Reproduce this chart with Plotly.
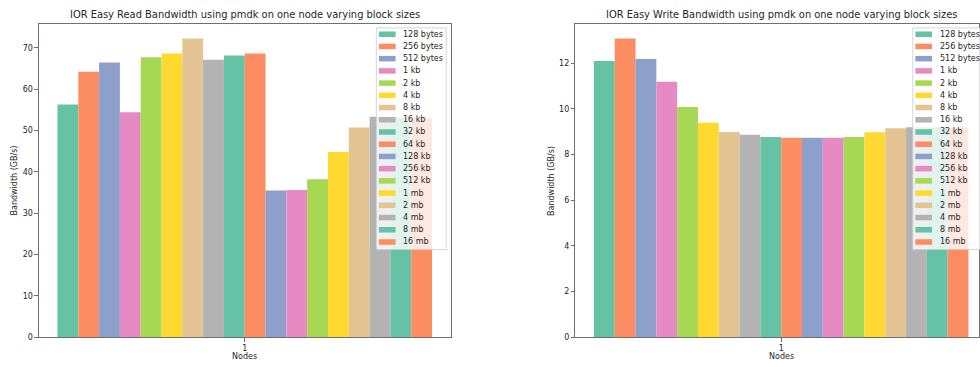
import plotly.graph_objects as go

# Block sizes tested, in legend order
block_sizes = [
    "128 bytes", "256 bytes", "512 bytes", "1 kb", "2 kb", "4 kb", "8 kb",
    "16 kb", "32 kb", "64 kb", "128 kb", "256 kb", "512 kb", "1 mb",
    "2 mb", "4 mb", "8 mb", "16 mb",
]
node_counts = ["1"]

# IOR easy read / write bandwidth (GB/s) on one node
read_bw = [56.3, 64.2, 66.4, 54.4, 67.7, 68.6, 72.2, 67.1, 68.1,
           68.6, 35.5, 35.6, 38.2, 44.8, 50.7, 53.3, 53.1, 53.1]
write_bw = [12.10, 13.08, 12.19, 11.19, 10.09, 9.40, 8.99, 8.87, 8.77,
            8.74, 8.74, 8.74, 8.77, 8.98, 9.16, 9.20, 9.19, 9.19]

read_title = "IOR Easy Read Bandwidth using pmdk on one node varying block sizes"
write_title = "IOR Easy Write Bandwidth using pmdk on one node varying block sizes"
y_label = "Bandwidth (GB/s)"
x_label = "Nodes"

set2 = ["#66c2a5", "#fc8d62", "#8da0cb", "#e78ac3",
        "#a6d854", "#ffd92f", "#e5c494", "#b3b3b3"]

W, H = 980, 367
FONT = "DejaVu Sans"
TXT = "#262626"
SPINE = "#6f6f6f"

AXIS_W = 412            # full width of one panel's plotting area, px
TOP_PX, BOTTOM_PX = 24, 342


def fx(px):
    return px / W


def fy(py):
    return 1 - py / H


fig = go.Figure()

panels = [
    dict(vals=read_bw, title=read_title, xa="x", ya="y", left=39),
    dict(vals=write_bw, title=write_title, xa="x2", ya="y2", left=576),
]

shapes = []
annotations = []

for p in panels:
    for i, (name, v) in enumerate(zip(block_sizes, p["vals"])):
        fig.add_trace(go.Bar(
            x=node_counts, y=[v], name=name,
            marker=dict(color=set2[i % len(set2)], line=dict(width=0)),
            xaxis=p["xa"], yaxis=p["ya"], showlegend=False,
        ))

    x0 = p["left"]
    cx = x0 + AXIS_W / 2
    # panel title and axis titles
    annotations.append(dict(
        text=p["title"], x=fx(cx), y=fy(15), xref="paper", yref="paper",
        showarrow=False, xanchor="center", yanchor="middle",
        font=dict(family=FONT, size=9.9, color=TXT)))
    annotations.append(dict(
        text=x_label, x=fx(cx), y=fy(361.5), xref="paper", yref="paper",
        showarrow=False, xanchor="center", yanchor="middle",
        font=dict(family=FONT, size=8, color=TXT)))
    annotations.append(dict(
        text=y_label, x=fx(x0 - 24), y=fy((TOP_PX + BOTTOM_PX) / 2),
        xref="paper", yref="paper", textangle=-90,
        showarrow=False, xanchor="center", yanchor="middle",
        font=dict(family=FONT, size=8, color=TXT)))

    # legend box with a swatch and label per block size
    bx0, bx1 = x0 + 337.7, x0 + 407.7
    by0, by1 = 28.3, 253.0
    shapes.append(dict(
        type="rect", xref="paper", yref="paper", layer="above",
        x0=fx(bx0), x1=fx(bx1), y0=fy(by1), y1=fy(by0),
        fillcolor="rgba(255,255,255,0.8)",
        line=dict(color="rgba(204,204,204,0.8)", width=1)))
    for i, name in enumerate(block_sizes):
        ry = 34.7 + i * 12.39
        shapes.append(dict(
            type="rect", xref="paper", yref="paper", layer="above",
            x0=fx(x0 + 340.3), x1=fx(x0 + 357), y0=fy(ry + 2.8), y1=fy(ry - 2.8),
            fillcolor=set2[i % len(set2)], line=dict(width=0)))
        annotations.append(dict(
            text=name, x=fx(x0 + 362.7), y=fy(ry), xref="paper", yref="paper",
            showarrow=False, xanchor="left", yanchor="middle",
            font=dict(family=FONT, size=8, color=TXT)))

common_x = dict(
    type="category", showline=True, mirror=True,
    linecolor=SPINE, linewidth=1, ticks="outside", ticklen=3.5,
    tickcolor=SPINE, showgrid=False, zeroline=False,
    tickfont=dict(family=FONT, size=8, color=TXT), fixedrange=True,
)
common_y = dict(
    showline=True, mirror=True, linecolor=SPINE, linewidth=1,
    ticks="outside", ticklen=3.5, tickcolor=SPINE, showgrid=False,
    zeroline=False, tickfont=dict(family=FONT, size=8, color=TXT),
    fixedrange=True,
)

y_dom = [fy(BOTTOM_PX), fy(TOP_PX)]

# The write panel runs past the right edge of the page; its axis keeps the
# same scale as the read panel and simply stops at the page edge.
right_left = 576
right_visible = W - right_left
right_range = [-0.5, -0.5 + right_visible / AXIS_W]

fig.update_layout(
    width=W, height=H,
    margin=dict(l=0, r=0, t=0, b=0),
    paper_bgcolor="white", plot_bgcolor="white",
    barmode="group", bargap=0.09, bargroupgap=0,
    showlegend=False,
    font=dict(family=FONT, size=8, color=TXT),
    xaxis=dict(domain=[fx(39), fx(39 + AXIS_W)], anchor="y",
               range=[-0.5, 0.5], **common_x),
    yaxis=dict(domain=y_dom, anchor="x", range=[0, max(read_bw) * 1.05],
               dtick=10, **common_y),
    xaxis2=dict(domain=[fx(right_left), 1.0], anchor="y2",
                range=right_range, **common_x),
    yaxis2=dict(domain=y_dom, anchor="x2", range=[0, max(write_bw) * 1.05],
                dtick=2, **common_y),
    shapes=shapes,
    annotations=annotations,
)

# keep the page exactly the size of the figure
page_css = (
    "document.documentElement.style.cssText="
    "'margin:0;padding:0;height:367px;overflow:hidden';"
    "document.body.style.cssText="
    "'margin:0;padding:0;height:367px;overflow:hidden';"
)

fig.write_html("out.html", config={"displayModeBar": False},
               post_script=page_css)
